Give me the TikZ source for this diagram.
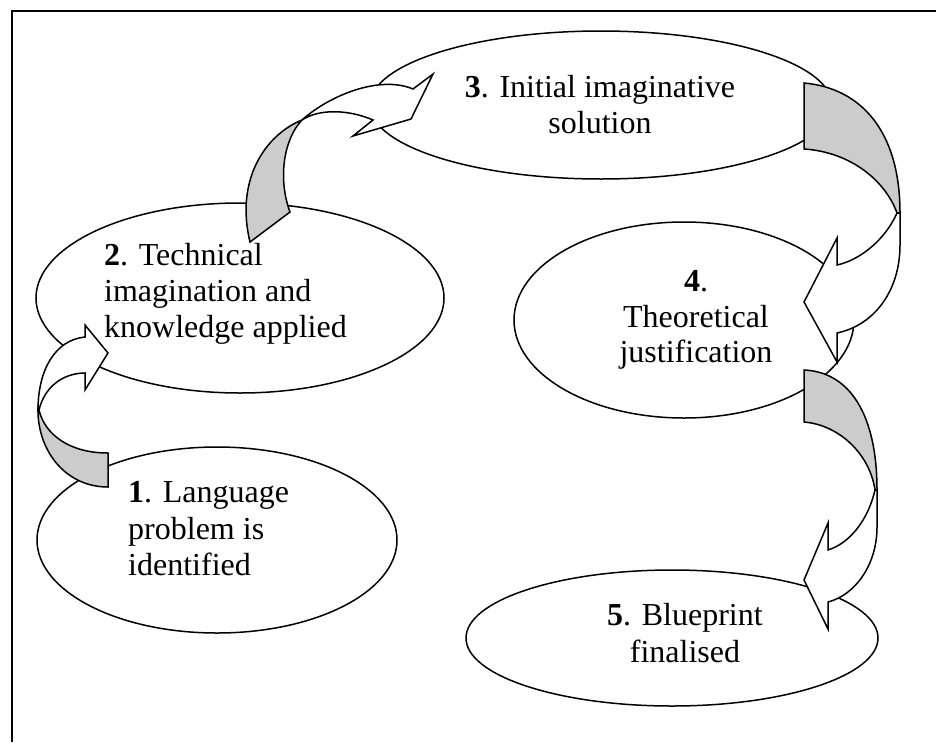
\documentclass[tikz,border=0pt]{standalone}
\usepackage{fontspec}
\setmainfont{Liberation Serif}
\usetikzlibrary{shapes.geometric}
\definecolor{bandgray}{RGB}{204,204,204}
\begin{document}
\begin{tikzpicture}[x=1pt,y=-1pt,
  oval/.style={ellipse,draw=black,line width=1.5pt,inner sep=0pt},
  txt/.style={inner sep=0pt,font=\fontsize{32}{36}\selectfont},
  band/.style={fill=bandgray,draw=black,line width=1.5pt,line join=miter},
  blank/.style={fill=white,draw=black,line width=1.5pt,line join=miter},
  frame/.style={draw=black,line width=2pt}]
\useasboundingbox (0,0) rectangle (936,742);
% frame (top and left)
\coordinate (fa) at (12,742);
\coordinate (fb) at (12,10.5);
\coordinate (fc) at (936,10.5);
\draw[frame] (fa) -- (fb) -- (fc);

% ellipses
\node[oval,minimum width=360pt,minimum height=186pt] (e1) at (217,540) {};
\node[oval,minimum width=408pt,minimum height=190pt] (e2) at (240,298) {};
\node[oval,minimum width=462pt,minimum height=148pt] (e3) at (601,105) {};
\node[oval,minimum width=340pt,minimum height=196pt] (e4) at (684,320) {};
\node[oval,minimum width=412pt,minimum height=136pt] (e5) at (672,638) {};

% texts
\node[txt,anchor=base west] (t1a) at (128,502) {\textbf{1}. Language};
\node[txt,anchor=base west] (t1b) at (128,539) {problem is};
\node[txt,anchor=base west] (t1c) at (128,575) {identified};

\node[txt,anchor=base west] (t2a) at (104,265) {\textbf{2}. Technical};
\node[txt,anchor=base west] (t2b) at (104,301) {imagination and};
\node[txt,anchor=base west] (t2c) at (104,337) {knowledge applied};

\node[txt,anchor=base] (t3a) at (600,97) {\textbf{3}. Initial imaginative};
\node[txt,anchor=base] (t3b) at (600,133) {solution};

\node[txt,anchor=base] (t4a) at (696,291) {\textbf{4}.};
\node[txt,anchor=base] (t4b) at (696,327) {Theoretical};
\node[txt,anchor=base] (t4c) at (696,362) {justification};

\node[txt,anchor=base] (t5a) at (685,625) {\textbf{5}. Blueprint};
\node[txt,anchor=base] (t5b) at (685,662) {finalised};

% arrow 1 -> 2
\path[band] (38,408) .. controls (37,450) and (65,487) .. (108,487)
  -- (108,453) .. controls (70,453) and (45,435) .. (39,410) -- cycle;
\path[blank] (38,410) .. controls (38,370) and (55,340) .. (85,337)
  -- (85,325) -- (108,353) -- (85,390) -- (85,373)
  .. controls (65,373) and (45,385) .. (39,410) -- cycle;

% arrow 2 -> 3
\path[band] (302,120) .. controls (265,135) and (235,180) .. (250,242)
  -- (290,212) .. controls (278,180) and (283,140) .. (302,120) -- cycle;
\path[blank] (302,120) .. controls (330,95) and (380,75) .. (413,89)
  -- (433,74) -- (411,119) -- (353,136) -- (373,120)
  .. controls (350,110) and (320,108) .. (302,120) -- cycle;

% arrow 3 -> 4
\path[band] (804,83) .. controls (860,88) and (900,130) .. (900,213)
  -- (897,213) .. controls (885,180) and (850,152) .. (804,149) -- cycle;
\path[blank] (900,213) -- (900,245) .. controls (900,290) and (875,325) .. (837,333)
  -- (837,362) -- (804,302) -- (837,238) -- (837,265)
  .. controls (860,260) and (885,240) .. (897,213) -- cycle;

% arrow 4 -> 5
\path[band] (804,370) .. controls (850,372) and (877,415) .. (877,490)
  -- (875,490) .. controls (870,455) and (840,425) .. (804,422) -- cycle;
\path[blank] (877,490) -- (877,527) .. controls (877,565) and (855,595) .. (828,602)
  -- (828,629) -- (804,580) -- (828,523) -- (828,550)
  .. controls (850,543) and (868,520) .. (875,490) -- cycle;
\end{tikzpicture}
\end{document}
